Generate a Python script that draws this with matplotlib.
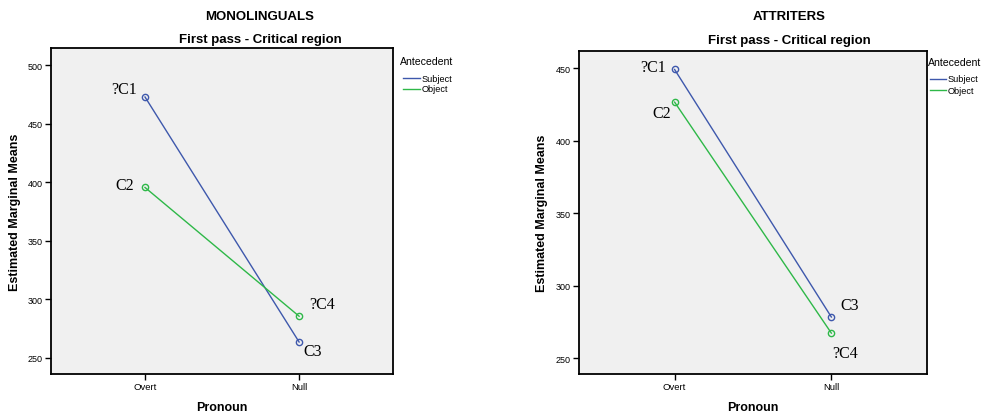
import matplotlib
matplotlib.use("Agg")
import matplotlib.pyplot as plt
from matplotlib.lines import Line2D

plt.rcParams['font.family'] = ['Liberation Sans', 'DejaVu Sans']

pronoun = ["Overt", "Null"]
groups = ["MONOLINGUALS", "ATTRITERS"]
antecedent = ["Subject", "Object"]

mono_subject = [472.7, 263.6]
mono_object = [395.5, 285.6]
attr_subject = [449.0, 278.3]
attr_object = [426.5, 267.2]

mono_labels = {"subject": ["?C1", "C3"], "object": ["C2", "?C4"]}
attr_labels = {"subject": ["?C1", "C3"], "object": ["C2", "?C4"]}

mono_ylim = (236.3, 514.5)
attr_ylim = (239.0, 461.7)
mono_yticks = [250, 300, 350, 400, 450, 500]
attr_yticks = [250, 300, 350, 400, 450]

blue = "#3e58ac"
green = "#2eb848"

W, H = 983, 414
fig = plt.figure(figsize=(W / 100, H / 100), dpi=100)
ax1 = fig.add_axes([0.0519, 0.0942, 0.348, 0.7874])
ax2 = fig.add_axes([0.589, 0.0942, 0.354, 0.780])


def fx(px):
    return px / W


def fy(py):
    return 1 - py / H


panels = [
    (ax1, mono_subject, mono_object, mono_labels, mono_ylim, mono_yticks,
     {"subject": [(-21, 8), (14, -9)], "object": [(-20, 2), (23, 12)]},
     (400, 62, 403, 420, 79, 11)),
    (ax2, attr_subject, attr_object, attr_labels, attr_ylim, attr_yticks,
     {"subject": [(-22, 2), (18, 12)], "object": [(-13, -11), (14, -20)]},
     (928, 63, 930, 946, 80, 11)),
]

x = [0, 1]
for ax, subj, obj, labels, ylim, yticks, offs, leg in panels:
    ax.set_facecolor("#f0f0f0")
    ax.plot(x, subj, color=blue, lw=1, marker="o", mfc="none", ms=4.5, mew=1)
    ax.plot(x, obj, color=green, lw=1, marker="o", mfc="none", ms=4.5, mew=1)
    for key, vals in (("subject", subj), ("object", obj)):
        for i, v in enumerate(vals):
            ax.annotate(labels[key][i], (x[i], v), xytext=offs[key][i],
                        textcoords="offset pixels", ha="center", va="center",
                        fontsize=11.5, family="Liberation Serif")
    ax.set_xlim(-0.61, 1.61)
    ax.set_ylim(*ylim)
    ax.set_xticks(x)
    ax.set_xticklabels(pronoun)
    ax.set_yticks(yticks)
    ax.tick_params(length=4, width=1, pad=2)
    ax.tick_params(axis="x", labelsize=6.8)
    ax.tick_params(axis="y", labelsize=6.5)
    for s in ax.spines.values():
        s.set_linewidth(1.3)
    ax.set_xlabel("Pronoun", fontsize=9, fontweight="bold")
    ax.set_ylabel("Estimated Marginal Means", fontsize=9, fontweight="bold")
    ax.xaxis.set_label_coords(0.5, -0.083)
    ax.yaxis.set_label_coords(-0.088, 0.5)

    # legend drawn by hand: title, then a short line and label per series
    tx, ty, lx0, lx1, ly, step = leg
    fig.text(fx(tx), fy(ty), "Antecedent", ha="left", va="center", fontsize=7.6)
    for j, (name, c) in enumerate(zip(antecedent, [blue, green])):
        yy = fy(ly + j * step)
        fig.add_artist(Line2D([fx(lx0), fx(lx1)], [yy, yy], color=c, lw=1,
                              transform=fig.transFigure))
        fig.text(fx(lx1 + 2), yy, name, ha="left", va="center", fontsize=6.6)

fig.text(0.2645, 0.959, "MONOLINGUALS", ha="center", va="center", fontsize=9.5, fontweight="bold")
fig.text(0.2645, 0.903, "First pass - Critical region", ha="center", va="center", fontsize=9.5, fontweight="bold")
fig.text(0.8026, 0.959, "ATTRITERS", ha="center", va="center", fontsize=9.5, fontweight="bold")
fig.text(0.8026, 0.901, "First pass - Critical region", ha="center", va="center", fontsize=9.5, fontweight="bold")

fig.savefig("out.png", dpi=100)
